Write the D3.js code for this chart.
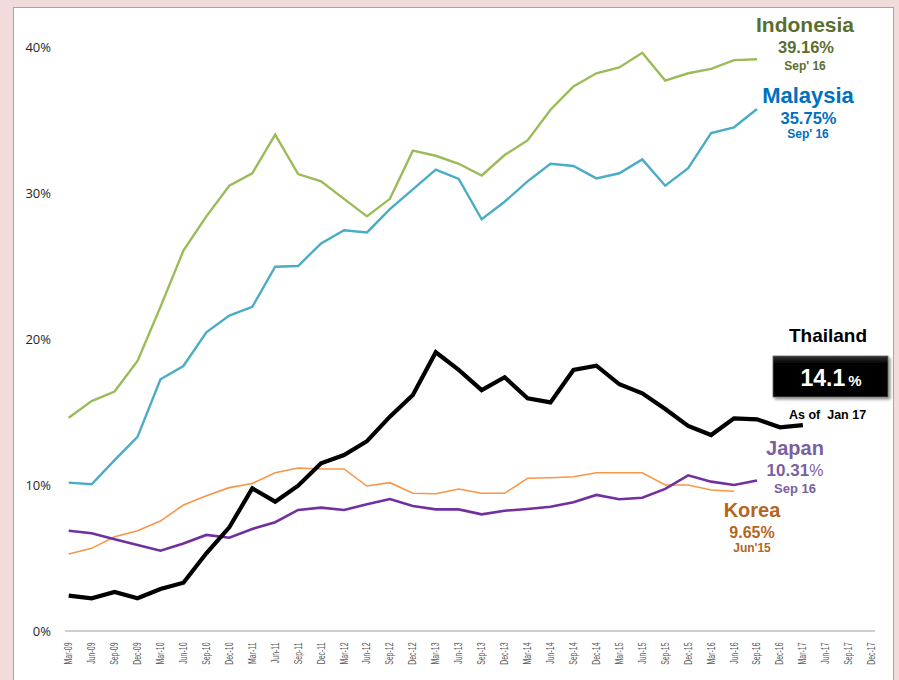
<!DOCTYPE html>
<html>
<head>
<meta charset="utf-8">
<script src="https://cdn.jsdelivr.net/npm/d3@7/dist/d3.min.js"></script>
<style>
  html, body { margin: 0; padding: 0; background: #f2dcdb; }
  svg { display: block; font-family: "Liberation Sans", Arial, sans-serif; }
</style>
</head>
<body>
<svg id="chart" width="899" height="680"></svg>
<script>
// quarter labels on the x axis
const quarters = ["Mar-09","Jun-09","Sep-09","Dec-09","Mar-10","Jun-10","Sep-10","Dec-10",
  "Mar-11","Jun-11","Sep-11","Dec-11","Mar-12","Jun-12","Sep-12","Dec-12",
  "Mar-13","Jun-13","Sep-13","Dec-13","Mar-14","Jun-14","Sep-14","Dec-14",
  "Mar-15","Jun-15","Sep-15","Dec-15","Mar-16","Jun-16","Sep-16","Dec-16",
  "Mar-17","Jun-17","Sep-17","Dec-17"];

const yTicks = [0, 10, 20, 30, 40];

// penetration (%) per quarter
const indonesia = [14.6,15.75,16.4,18.5,22.2,26.05,28.4,30.5,31.35,34.0,31.3,30.8,29.6,28.4,29.6,32.9,
  32.55,32.0,31.2,32.6,33.6,35.7,37.3,38.2,38.6,39.6,37.7,38.2,38.5,39.1,39.16];
const malaysia = [10.16,10.05,11.7,13.3,17.24,18.15,20.46,21.6,22.2,24.95,25.0,26.55,27.45,27.3,28.9,30.25,
  31.6,30.96,28.2,29.4,30.8,32.0,31.85,31.0,31.35,32.3,30.5,31.7,34.1,34.5,35.75];
const thailand = [2.42,2.24,2.67,2.24,2.88,3.31,5.32,7.1,9.77,8.86,9.95,11.49,12.05,13.0,14.68,16.16,
  19.09,17.88,16.5,17.38,15.94,15.66,17.88,18.17,16.9,16.28,15.2,14.04,13.42,14.57,14.5,13.95,14.1];
const japan = [6.87,6.69,6.28,5.89,5.5,6.0,6.58,6.39,6.99,7.45,8.29,8.45,8.29,8.68,9.04,8.56,
  8.33,8.33,7.99,8.24,8.36,8.51,8.82,9.32,9.02,9.13,9.73,10.66,10.23,10.0,10.31];
const korea = [5.27,5.66,6.46,6.87,7.53,8.63,9.27,9.82,10.1,10.84,11.16,11.1,11.1,9.93,10.16,9.43,
  9.4,9.73,9.43,9.43,10.46,10.5,10.57,10.84,10.84,10.84,10.0,10.0,9.66,9.57];

const svg = d3.select("#chart");

// white panel with gray frame
svg.append("rect")
  .attr("x", 13.5).attr("y", 7.5)
  .attr("width", 880).attr("height", 690)
  .attr("fill", "#fff").attr("stroke", "#a6a6a6").attr("stroke-width", 1);

const x = d3.scalePoint().domain(quarters).range([68.7, 871.7]);
const y = d3.scaleLinear().domain([0, 40]).range([631, 47]);

// y labels
svg.append("g").selectAll("text")
  .data(yTicks).join("text")
  .attr("x", 51).attr("y", d => y(d)).attr("dy", "0.35em")
  .attr("text-anchor", "end")
  .attr("font-size", 13).attr("fill", "#262626")
  .attr("font-family", "'Open Sans', sans-serif")
  .text(d => d + "%");

// x axis line
svg.append("line")
  .attr("x1", 65).attr("x2", 875).attr("y1", y(0)).attr("y2", y(0))
  .attr("stroke", "#bfbfbf").attr("stroke-width", 1.5);

// x labels rotated
svg.append("g").selectAll("text")
  .data(quarters).join("text")
  .attr("transform", d => `translate(${x(d) + 3.5},642.5) rotate(-90) scale(0.68,1)`)
  .attr("text-anchor", "end")
  .attr("font-size", 10.2).attr("fill", "#595959")
  .text(d => d);

const line = d3.line()
  .x((d, i) => x(quarters[i]))
  .y(d => y(d));

const series = [
  {values: korea, color: "#f79646", width: 1.6},
  {values: japan, color: "#7030a0", width: 2.6},
  {values: malaysia, color: "#4bacc6", width: 2.4},
  {values: indonesia, color: "#9bbb59", width: 2.4},
  {values: thailand, color: "#000", width: 4.2}
];

svg.append("g").selectAll("path")
  .data(series).join("path")
  .attr("d", d => line(d.values))
  .attr("fill", "none")
  .attr("stroke", d => d.color)
  .attr("stroke-width", d => d.width)
  .attr("stroke-linejoin", "miter");

// annotations
function label(txt, cx, cy, size, color) {
  return svg.append("text")
    .attr("x", cx).attr("y", cy)
    .attr("text-anchor", "middle")
    .attr("font-weight", "bold")
    .attr("font-size", size)
    .attr("fill", color)
    .text(txt);
}

label("Indonesia", 805, 32, 21, "#5a6f2e");
label("39.16%", 806, 53, 16.5, "#5a6f2e");
label("Sep' 16", 805, 69.5, 12, "#5a6f2e");

label("Malaysia", 808, 103, 22, "#0070c0");
label("35.75%", 808.5, 123.5, 16.5, "#0070c0");
label("Sep' 16", 808, 138, 12, "#0070c0");

label("Thailand", 828, 341.7, 19, "#000");

const defs = svg.append("defs");
const f = defs.append("filter").attr("id", "shadow")
  .attr("x", "-10%").attr("y", "-20%").attr("width", "125%").attr("height", "150%");
f.append("feDropShadow").attr("dx", 2).attr("dy", 2).attr("stdDeviation", 1.5)
  .attr("flood-color", "#000").attr("flood-opacity", 0.45);
const g = defs.append("linearGradient").attr("id", "boxg")
  .attr("x1", 0).attr("x2", 0).attr("y1", 0).attr("y2", 1);
g.append("stop").attr("offset", "0%").attr("stop-color", "#333");
g.append("stop").attr("offset", "20%").attr("stop-color", "#000");
g.append("stop").attr("offset", "100%").attr("stop-color", "#000");

svg.append("rect")
  .attr("x", 773).attr("y", 356).attr("width", 115).attr("height", 41)
  .attr("fill", "url(#boxg)").attr("stroke", "#666").attr("stroke-width", 0.8)
  .attr("filter", "url(#shadow)");

const big = svg.append("text")
  .attr("x", 831).attr("y", 385.7)
  .attr("text-anchor", "middle")
  .attr("font-weight", "bold").attr("fill", "#fff");
big.append("tspan").attr("font-size", 23).text("14.1");
big.append("tspan").attr("font-size", 15).attr("dx", 3).text("%");

svg.append("text")
  .attr("x", 789).attr("y", 418.7)
  .attr("font-weight", "bold").attr("font-size", 12.5).attr("fill", "#000")
  .attr("xml:space", "preserve")
  .text("As of  Jan 17");

label("Japan", 795, 455, 20, "#7b5fa0");
const jp = label("", 795, 476, 17, "#7b5fa0");
jp.append("tspan").text("10.31");
jp.append("tspan").attr("font-weight", "normal").attr("font-size", 16).text("%");
label("Sep 16", 795, 492.7, 13, "#7b5fa0");

label("Korea", 752, 517.3, 20, "#b5651d");
label("9.65%", 752, 538.3, 16, "#b5651d");
label("Jun'15", 752, 552.3, 12, "#b5651d");
</script>
</body>
</html>
